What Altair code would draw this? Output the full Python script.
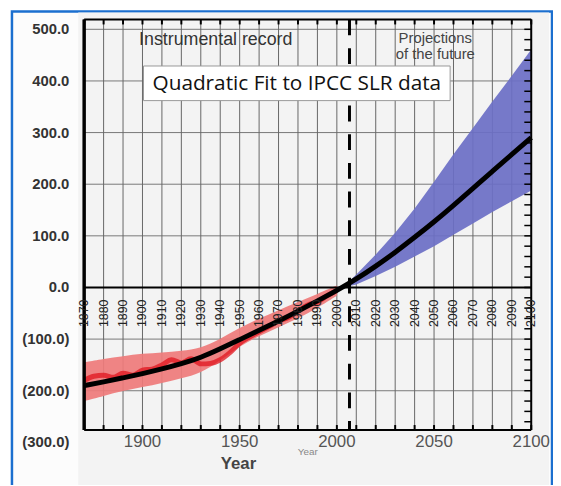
import altair as alt
import pandas as pd

# ---------------- data ----------------
fit_years = [1870, 1880, 1890, 1900, 1910, 1920, 1930, 1940, 1950, 1960, 1970, 1980,
             1990, 2000, 2010, 2020, 2030, 2040, 2050, 2060, 2070, 2080, 2090, 2100]
fit_vals = [-190, -183, -175, -167, -158, -148, -136, -119, -101, -83, -65, -46,
            -26, -6, 16, 41, 68, 97, 127, 159, 192, 225, 258, 290]

red_years = [1870, 1880, 1890, 1900, 1910, 1920, 1930, 1940, 1950, 1960, 1970, 1980, 1990, 2000]
red_upper = [-145, -138, -133, -128, -126, -123, -118, -100, -78, -60, -44, -28, -13, 4]
red_lower = [-220, -210, -200, -193, -185, -176, -166, -142, -113, -94, -77, -60, -40, -16]

obs_years = [1870, 1875, 1880, 1885, 1890, 1895, 1900, 1905, 1910, 1915, 1920, 1925, 1930,
             1935, 1940, 1945, 1950, 1955, 1960, 1965, 1970, 1975, 1980, 1985, 1990, 1995, 2000]
obs_vals = [-180, -172, -170, -174, -166, -170, -160, -158, -150, -140, -146, -138, -148,
            -147, -140, -126, -108, -96, -86, -76, -65, -58, -46, -34, -28, -16, -6]

blue_years = [2003, 2010, 2020, 2030, 2040, 2050, 2060, 2070, 2080, 2090, 2100]
blue_lower = [0, 6, 22, 40, 60, 80, 102, 124, 146, 167, 188]
blue_upper = [0, 25, 64, 106, 153, 205, 258, 309, 360, 410, 461]

divider_year = 2006.5

grid_years = [1870, 1880, 1890, 1900, 1910, 1920, 1930, 1940, 1950, 1960, 1970, 1980,
              1990, 2000, 2010, 2020, 2030, 2040, 2050, 2060, 2070, 2080, 2090, 2100]
grid_levels = [-200, -100, 100, 200, 300, 400, 500]
y_label_values = [500, 400, 300, 200, 100, 0, -100, -200, -300]
y_label_texts = ["500.0", "400.0", "300.0", "200.0", "100.0", "0.0", "(100.0)", "(200.0)", "(300.0)"]
x_label_values = [1900, 1950, 2000, 2050, 2100]
right_tick_values = list(range(-260, 520, 20))

W, H = 452, 415
xs = alt.Scale(domain=[1870, 2100], nice=False, zero=False)
ys = alt.Scale(domain=[-276, 519], nice=False, zero=False)


def X(field):
    return alt.X(field, type="quantitative", scale=xs, axis=None)


def Y(field):
    return alt.Y(field, type="quantitative", scale=ys, axis=None)


one = pd.DataFrame({"a": [0]})
fit_df = pd.DataFrame({"year": fit_years, "val": fit_vals})
red_df = pd.DataFrame({"year": red_years, "lo": red_lower, "hi": red_upper})
obs_df = pd.DataFrame({"year": obs_years, "val": obs_vals})
blue_df = pd.DataFrame({"year": blue_years, "lo": blue_lower, "hi": blue_upper})
gx_df = pd.DataFrame({"year": grid_years, "lab": [str(g) for g in grid_years]})
gy_df = pd.DataFrame({"lev": grid_levels})
ylab_df = pd.DataFrame({"v": y_label_values, "t": y_label_texts})
xlab_df = pd.DataFrame({"year": x_label_values, "t": [str(v) for v in x_label_values]})
rt_df = pd.DataFrame({"v": right_tick_values})

# frame and background
frame = alt.Chart(one).mark_rect(
    fill="#fcfcfc", stroke="#1b6fcf", strokeWidth=2.5
).encode(x=alt.value(-73), x2=alt.value(473), y=alt.value(-8), y2=alt.value(478))

img_bg = alt.Chart(one).mark_rect(fill="#f3f3f3").encode(
    x=alt.value(-6), x2=alt.value(470), y=alt.value(-7), y2=alt.value(476))

# gridlines
hgrid = alt.Chart(gy_df).mark_rule(color="#777", strokeWidth=1).encode(
    y=Y("lev"), x=alt.value(0), x2=alt.value(W))
vgrid = alt.Chart(gx_df).mark_rule(color="#666", strokeWidth=1).encode(
    x=X("year"), y=alt.value(0), y2=alt.value(H))

red_band = alt.Chart(red_df).mark_area(color="#ef7b7b", opacity=0.92, interpolate="basis").encode(
    x=X("year"), y=Y("lo"), y2="hi")
obs_line = alt.Chart(obs_df).mark_line(color="#e0141e", strokeWidth=5, opacity=0.75,
                                       interpolate="monotone").encode(
    x=X("year"), y=Y("val"))
blue_band = alt.Chart(blue_df).mark_area(color="#6b6fc5", opacity=0.92).encode(
    x=X("year"), y=Y("lo"), y2="hi")
fit_line = alt.Chart(fit_df).mark_line(color="black", strokeWidth=5, interpolate="basis").encode(
    x=X("year"), y=Y("val"))

zero_line = alt.Chart(pd.DataFrame({"v": [0]})).mark_rule(color="black", strokeWidth=2).encode(
    y=Y("v"), x=alt.value(0), x2=alt.value(W))
divider = alt.Chart(pd.DataFrame({"year": [divider_year]})).mark_rule(
    color="black", strokeWidth=3, strokeDash=[16, 13]).encode(
    x=X("year"), y=alt.value(0), y2=alt.value(H))

# plot frame lines
top_line = alt.Chart(one).mark_rule(color="black", strokeWidth=2).encode(
    x=alt.value(0), x2=alt.value(W), y=alt.value(0))
bottom_line = alt.Chart(one).mark_rule(color="black", strokeWidth=2).encode(
    x=alt.value(0), x2=alt.value(W), y=alt.value(H))
left_line = alt.Chart(one).mark_rule(color="black", strokeWidth=3.5).encode(
    x=alt.value(0), y=alt.value(0), y2=alt.value(H))
right_line = alt.Chart(one).mark_rule(color="black", strokeWidth=2).encode(
    x=alt.value(W), y=alt.value(0), y2=alt.value(H))

right_ticks = alt.Chart(rt_df).mark_rule(color="black", strokeWidth=1.5).encode(
    y=Y("v"), x=alt.value(W - 7), x2=alt.value(W))
top_ticks = alt.Chart(gx_df).mark_rule(color="black", strokeWidth=2).encode(
    x=X("year"), y=alt.value(0), y2=alt.value(5))
bottom_ticks = alt.Chart(gx_df).mark_rule(color="black", strokeWidth=2).encode(
    x=X("year"), y=alt.value(H - 5), y2=alt.value(H))

decade_labels = alt.Chart(gx_df).mark_text(
    angle=270, fontSize=12.5, font="Liberation Sans", color="#222", align="center", baseline="middle"
).encode(x=X("year"), y=alt.value(297), text="lab:N")

instr = alt.Chart(one).mark_text(
    text="Instrumental record", fontSize=18, font="Liberation Sans", color="#333",
    align="center", baseline="middle").encode(x=alt.value(133), y=alt.value(21))

proj1 = alt.Chart(one).mark_text(
    text="Projections", fontSize=15, font="Liberation Sans", color="#444",
    align="center", baseline="middle").encode(x=alt.value(355), y=alt.value(19))
proj2 = alt.Chart(one).mark_text(
    text="of the future", fontSize=15, font="Liberation Sans", color="#444",
    align="center", baseline="middle").encode(x=alt.value(355), y=alt.value(35))

box = alt.Chart(one).mark_rect(fill="white", stroke="#999", strokeWidth=1).encode(
    x=alt.value(60), x2=alt.value(370), y=alt.value(47), y2=alt.value(82))
box_text = alt.Chart(one).mark_text(
    text="Quadratic Fit to IPCC SLR data", fontSize=21, font="Open Sans", color="#111",
    align="center", baseline="middle").encode(x=alt.value(215), y=alt.value(65))

ylabels = alt.Chart(ylab_df).mark_text(
    fontSize=15, fontWeight="bold", font="Liberation Sans", color="#333",
    align="right", baseline="middle").encode(y=Y("v"), x=alt.value(-15), text="t:N")

xlabels = alt.Chart(xlab_df).mark_text(
    fontSize=17, font="Liberation Sans", color="#555",
    align="center", baseline="middle").encode(x=X("year"), y=alt.value(H + 12), text="t:N")

small_year = alt.Chart(one).mark_text(
    text="Year", fontSize=10, font="Liberation Sans", color="#888",
    align="center", baseline="middle").encode(x=alt.value(226), y=alt.value(H + 22))

x_title = alt.Chart(one).mark_text(
    text="Year", fontSize=17, fontWeight="bold", font="Liberation Sans", color="#444",
    align="center", baseline="middle").encode(x=alt.value(156), y=alt.value(H + 34))

chart = alt.layer(
    frame, img_bg, hgrid, vgrid, instr, proj1, proj2, red_band, obs_line, blue_band,
    zero_line, divider, fit_line, top_line, bottom_line, left_line, right_line,
    right_ticks, top_ticks, bottom_ticks, decade_labels, box, box_text,
    ylabels, small_year, xlabels, x_title
).properties(
    width=W, height=H,
    padding={"left": 77, "top": 9, "right": 22, "bottom": 53},
    autosize=alt.AutoSizeParams(type="none"),
    background="white"
).configure_view(stroke=None)

chart.save("out.html", embed_options={"renderer": "svg", "actions": False})
